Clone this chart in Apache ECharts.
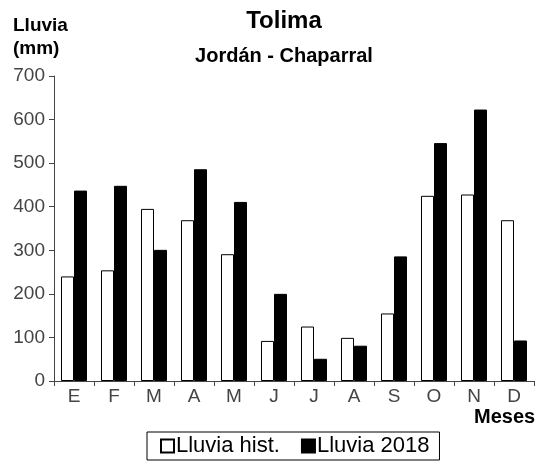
<!DOCTYPE html>
<html>
<head>
<meta charset="utf-8">
<script src="https://cdn.jsdelivr.net/npm/echarts@6/dist/echarts.min.js"></script>
<style>
html,body{margin:0;padding:0;background:#fff;}
#chart{width:540px;height:462px;}
</style>
</head>
<body>
<div id="chart"></div>
<script>
const months = ['E','F','M','A','M','J','J','A','S','O','N','D'];
const lluviaHist = [240, 254, 395, 369, 291, 92, 125, 99, 155, 425, 428, 369];
const lluvia2018 = [437, 448, 301, 486, 411, 200, 51, 81, 286, 546, 623, 93];
const yTicks = [0, 100, 200, 300, 400, 500, 600, 700];

const FONT = '"Liberation Sans", Arial, sans-serif';
const chart = echarts.init(document.getElementById('chart'), null, {renderer:'canvas'});
chart.setOption({
  backgroundColor: '#fff',
  animation: false,
  title: [
    {text: 'Tolima', left: 284, top: 9, textAlign: 'center', padding: 0,
     textStyle: {fontFamily: FONT, fontSize: 24, fontWeight: 'bold', color: '#000'}},
    {text: 'Jordán - Chaparral', left: 284, top: 46, textAlign: 'center', padding: 0,
     textStyle: {fontFamily: FONT, fontSize: 20, fontWeight: 'bold', color: '#000'}},
    {text: 'Lluvia\n(mm)', left: 13, top: 14, padding: 0,
     textStyle: {fontFamily: FONT, fontSize: 19, fontWeight: 'bold', color: '#000', lineHeight: 23}},
    {text: 'Meses', left: 474, top: 407, padding: 0,
     textStyle: {fontFamily: FONT, fontSize: 20, fontWeight: 'bold', color: '#000'}}
  ],
  legend: {
    left: 147, top: 432,
    padding: [3, 10, 3, 13],
    borderColor: '#000', borderWidth: 1,
    itemWidth: 13, itemHeight: 13, itemGap: 21,
    icon: 'rect',
    textStyle: {fontFamily: FONT, fontSize: 22, color: '#000', padding: [0,0,0,-3]},
    data: ['Lluvia hist.', 'Lluvia 2018']
  },
  grid: {left: 54, right: 6, top: 76, bottom: 81, containLabel: false},
  xAxis: {
    type: 'category',
    data: months,
    axisLine: {lineStyle: {color: '#444', width: 1}},
    axisTick: {show: true, length: 5, inside: false, lineStyle: {color: '#444'}},
    axisLabel: {fontFamily: FONT, fontSize: 19, color: '#444', margin: 6}
  },
  yAxis: {
    type: 'value',
    min: yTicks[0], max: yTicks[yTicks.length - 1], interval: 100,
    axisLine: {show: true, lineStyle: {color: '#444', width: 1}},
    axisTick: {show: true, length: 5, lineStyle: {color: '#444'}},
    axisLabel: {fontFamily: FONT, fontSize: 19, color: '#444', margin: 9},
    splitLine: {show: false}
  },
  series: [
    {name: 'Lluvia hist.', type: 'bar', data: lluviaHist, barWidth: 13, barGap: '0%',
     itemStyle: {color: '#fff', borderColor: '#000', borderWidth: 1}},
    {name: 'Lluvia 2018', type: 'bar', data: lluvia2018, barWidth: 13, barGap: '0%',
     itemStyle: {color: '#000', borderColor: '#000', borderWidth: 1}}
  ]
});
</script>
</body>
</html>
